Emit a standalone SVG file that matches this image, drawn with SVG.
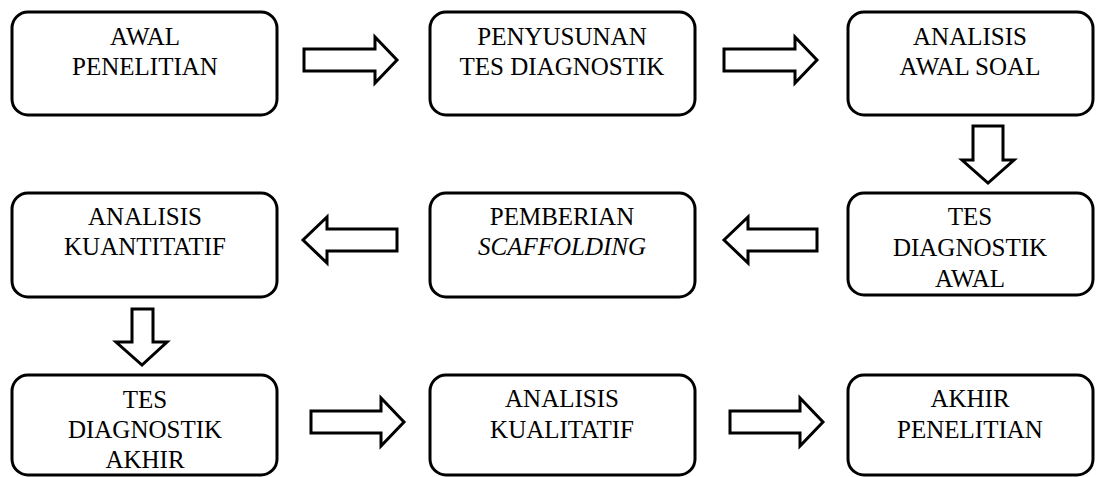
<svg xmlns="http://www.w3.org/2000/svg" width="1105" height="477" viewBox="0 0 1105 477" font-family="Liberation Serif, DejaVu Serif, serif">
<style>
.box{fill:#fff;stroke:#000;stroke-width:3}
.arr{fill:#fff;stroke:#000;stroke-width:3;stroke-linejoin:miter}
.t{font-family:"Liberation Serif",serif;font-size:25px;fill:#000;text-anchor:middle}
.it{font-style:italic}
</style>
<rect width="1105" height="477" fill="#fff"/>
<g id="connectors">
<polygon class="arr" points="304,49 375,49 375,37 397,60 375,83 375,71 304,71"/>
<polygon class="arr" points="724,49 795,49 795,37 817,60 795,83 795,71 724,71"/>
<polygon class="arr" points="973,126 1003,126 1003,160 1014,160 988,183 962,160 973,160"/>
<polygon class="arr" points="817,229 748,229 748,217 724,240 748,263 748,251 817,251"/>
<polygon class="arr" points="397,229 327,229 327,217 303,240 327,263 327,251 397,251"/>
<polygon class="arr" points="132,309 153,309 153,342 167,342 142,365 116,342 132,342"/>
<polygon class="arr" points="311,411 381,411 381,398 404,422 381,446 381,433 311,433"/>
<polygon class="arr" points="730,411 800,411 800,398 823,422 800,446 800,433 730,433"/>
</g>
<g class="t" font-family="Liberation Serif, serif">
<g id="n1"><rect class="box" x="12" y="12" width="265" height="103" rx="16"/><text x="145" y="45">AWAL</text><text x="145" y="75">PENELITIAN</text></g>
<g id="n2"><rect class="box" x="430" y="12" width="265" height="103" rx="16"/><text x="562" y="45">PENYUSUNAN</text><text x="562" y="75">TES DIAGNOSTIK</text></g>
<g id="n3"><rect class="box" x="848" y="12" width="245" height="103" rx="16"/><text x="970" y="45">ANALISIS</text><text x="970" y="75">AWAL SOAL</text></g>
<g id="n4"><rect class="box" x="848" y="193" width="245" height="102" rx="16"/><text x="970" y="225">TES</text><text x="970" y="256">DIAGNOSTIK</text><text x="970" y="287">AWAL</text></g>
<g id="n5"><rect class="box" x="430" y="193" width="265" height="104" rx="16"/><text x="562" y="225">PEMBERIAN</text><text class="it" x="562" y="255">SCAFFOLDING</text></g>
<g id="n6"><rect class="box" x="12" y="193" width="265" height="104" rx="16"/><text x="145" y="225">ANALISIS</text><text x="145" y="255">KUANTITATIF</text></g>
<g id="n7"><rect class="box" x="12" y="375" width="265" height="100" rx="16"/><text x="145" y="408">TES</text><text x="145" y="438">DIAGNOSTIK</text><text x="145" y="468">AKHIR</text></g>
<g id="n8"><rect class="box" x="430" y="375" width="265" height="100" rx="16"/><text x="562" y="407">ANALISIS</text><text x="562" y="438">KUALITATIF</text></g>
<g id="n9"><rect class="box" x="848" y="375" width="245" height="100" rx="16"/><text x="970" y="407">AKHIR</text><text x="970" y="438">PENELITIAN</text></g>
</g>
</svg>
